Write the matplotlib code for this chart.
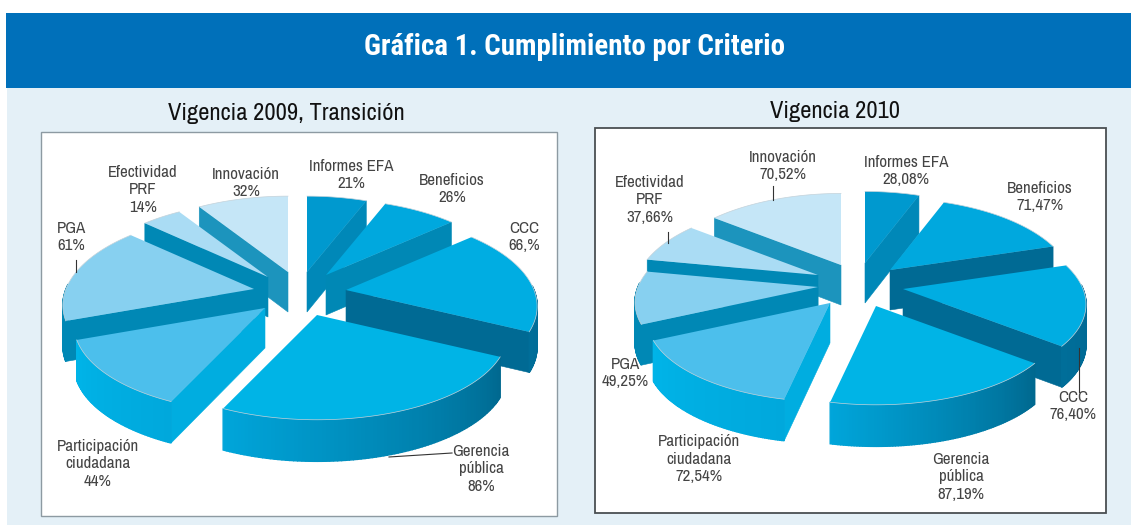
import numpy as np
import matplotlib
matplotlib.use("Agg")
import matplotlib.pyplot as plt
from matplotlib.patches import Polygon, Rectangle
from matplotlib.colors import to_rgb
from matplotlib import font_manager as fm

# ---- data ----
criteria = ["Informes EFA", "Beneficios", "CCC", "Gerencia\npública", "Participación\nciudadana",
            "PGA", "Efectividad\nPRF", "Innovación"]
values_2009 = [21, 26, 66, 86, 44, 61, 14, 32]
values_2010 = [28.08, 71.47, 76.40, 87.19, 72.54, 49.25, 37.66, 70.52]
texts_2009 = ["21%", "26%", "66,%", "86%", "44%", "61%", "14%", "32%"]
texts_2010 = ["28,08%", "71,47%", "76,40%", "87,19%", "72,54%", "49,25%", "37,66%", "70,52%"]
title_main = "Gráfica 1. Cumplimiento por Criterio"
title_2009 = "Vigencia 2009, Transición"
title_2010 = "Vigencia 2010"

# ---- styles / layout ----
W, H = 1131, 529
top_colors = ["#0099cf", "#00a8de", "#00ade2", "#00b4e6", "#4cbfec", "#87d0f0", "#aadcf4", "#c5e6f7"]
edge_colors = ["#0088b8", "#0088b5", "#006a94", "#0088b5", "#00ade0", "#0088b5", "#0088b5", "#1c94bd"]
wall_ramps = [("#0088b8", "#0088b8"), ("#0090c0", "#0090c0"), ("#006e99", "#006490"),
              ("#00a5da", "#00688f"), ("#00b4e8", "#00a8dc"), ("#0088b5", "#0088b5"),
              ("#0088b5", "#0088b5"), ("#1c94bd", "#1c94bd")]
edge_2010 = list(edge_colors)
edge_2010[1] = "#006a94"

apex_2009 = [(307, 272), (326, 275), (346, 290), (317, 315), (265, 308), (254, 289), (268, 277), (288, 272)]
apex_2010 = [(865, 263), (890, 270), (903, 289), (876, 306), (830, 303), (818, 287), (818, 275), (841, 265)]
label_2009 = [(351, 175), (452, 189), (524, 237), (481, 469), (98, 464), (71, 237), (143, 190), (246, 183)]
label_2010 = [(906, 171), (1040, 197), (1073, 406), (961, 477), (699, 459), (625, 373), (650, 200), (783, 166)]
leaders = [((452, 453), (389, 457)), ((76, 260), (76, 272)), ((772.6, 186), (772.6, 200)),
           ((668, 232), (668, 243)), ((1079, 348), (1079, 392))]

installed = {f.name for f in fm.fontManager.ttflist}
narrow = [n for n in ("Liberation Sans Narrow", "Archivo Narrow", "Roboto Condensed", "Open Sans Condensed")
          if n in installed]
FONT = narrow + ["Liberation Sans"]
bold = [n for n in narrow if any(f.name == n and int(f.weight) >= 700 for f in fm.fontManager.ttflist)]
BOLD_FONT = bold + ["Liberation Sans"]

PERSP_X = 0.18
PERSP_Y = 0.16


def project(ax_pt, theta, r, rx, ry, z=0.0, depth=0.0):
    """theta in radians, clockwise from the top; perspective shrinks the far side."""
    u, v = r * np.sin(theta), r * np.cos(theta)
    sx = 1.0 / (1.0 + PERSP_X * v)
    sy = 1.0 / (1.0 + PERSP_Y * v)
    return ax_pt[0] + rx * u * sx, ax_pt[1] - ry * v * sy + z * depth * (1 - 0.04 * v)


def mix(c0, c1, t):
    a, b = np.array(to_rgb(c0)), np.array(to_rgb(c1))
    return tuple(a + (b - a) * t)


def draw_pie(ax, values, apexes, rx, ry, depth, edges, base_z):
    vals = np.asarray(values, float)
    cum = np.concatenate([[0], np.cumsum(vals)]) / vals.sum() * 2 * np.pi
    order = sorted(range(len(vals)), key=lambda i: -np.cos((cum[i] + cum[i + 1]) / 2))
    for rank, i in enumerate(order):
        t0, t1 = cum[i], cum[i + 1]
        a = apexes[i]
        z = base_z + rank * 0.01
        ts = np.linspace(t0, t1, 90)
        for th, visible in ((t0, np.sin(t0) < -1e-6), (t1, np.sin(t1) > 1e-6)):
            if visible:
                p = [project(a, th, 0, rx, ry), project(a, th, 1, rx, ry),
                     project(a, th, 1, rx, ry, 1, depth), project(a, th, 0, rx, ry, 1, depth)]
                ax.add_patch(Polygon(p, closed=True, fc=edges[i], ec=edges[i], lw=0.4, zorder=z))
        c0, c1 = wall_ramps[i]
        for j in range(len(ts) - 1):
            m = (ts[j] + ts[j + 1]) / 2
            if np.cos(m) < 0.05:
                frac = j / (len(ts) - 2)
                col = mix(c1, c0, frac)
                p = [project(a, ts[j], 1, rx, ry), project(a, ts[j + 1], 1, rx, ry),
                     project(a, ts[j + 1], 1, rx, ry, 1, depth), project(a, ts[j], 1, rx, ry, 1, depth)]
                ax.add_patch(Polygon(p, closed=True, fc=col, ec=col, lw=1.0, zorder=z + 0.001))
        arc = [project(a, th, 1, rx, ry) for th in ts]
        ax.add_patch(Polygon([a] + arc, closed=True, fc=top_colors[i], ec="none", zorder=z + 0.002))
        xs, ys = zip(*arc)
        ax.plot(xs, ys, color="#c4d2da", lw=0.5, zorder=z + 0.003)


def draw_labels(ax, positions, texts):
    for name, txt, (x, y) in zip(criteria, texts, positions):
        ax.text(x, y, f"{name}\n{txt}", ha="center", va="center", family=FONT, fontsize=12.2,
                color="#444444", linespacing=1.17, zorder=50)


fig = plt.figure(figsize=(W / 100, H / 100), dpi=100, facecolor="white")
ax = fig.add_axes([0, 0, 1, 1])
ax.set_xlim(0, W)
ax.set_ylim(H, 0)
ax.axis("off")

ax.add_patch(Rectangle((7, 88), W - 7, 437, fc="#e4f0f7", ec="none", zorder=0))
ax.add_patch(Rectangle((6, 13), W - 6, 75, fc="#0070ba", ec="none", zorder=1))
ax.text(575, 44, title_main, ha="center", va="center_baseline", family=BOLD_FONT, weight="bold",
        fontsize=20.8, color="white", zorder=2)
ax.text(286, 112, title_2009, ha="center", va="center_baseline", family=FONT, fontsize=17.6, color="#111111", zorder=2)
ax.text(835, 109, title_2010, ha="center", va="center_baseline", family=FONT, fontsize=17.6, color="#111111", zorder=2)

ax.add_patch(Rectangle((41, 131.5), 516, 384.5, fc="white", ec="#8d9aa2", lw=1.0, zorder=2))
ax.add_patch(Rectangle((594.5, 128), 511, 385, fc="white", ec="#4a4f52", lw=1.3, zorder=2))

draw_pie(ax, values_2009, apex_2009, 188, 88, 40, edge_colors, 5)
draw_pie(ax, values_2010, apex_2010, 180, 83, 40, edge_2010, 5)
draw_labels(ax, label_2009, texts_2009)
draw_labels(ax, label_2010, texts_2010)
for (p, q) in leaders:
    ax.plot([p[0], q[0]], [p[1], q[1]], color="#333333", lw=0.8, zorder=40)

fig.savefig("out.png", dpi=100)
